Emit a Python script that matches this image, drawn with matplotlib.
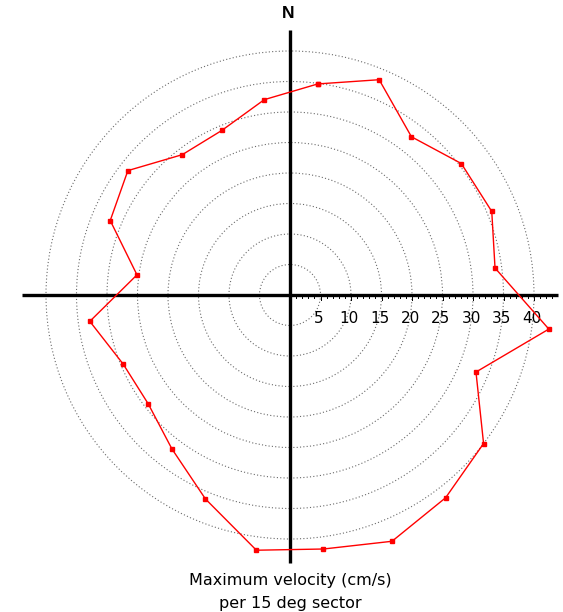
import numpy as np
import matplotlib.pyplot as plt
from matplotlib.patches import Circle

# Max velocity per 15 deg sector (bearing of sector middle, cm/s)
bearings = [7.5, 22.5, 37.5, 52.5, 67.5, 82.5, 97.5, 112.5, 127.5, 142.5, 157.5, 172.5,
            187.5, 202.5, 217.5, 232.5, 247.5, 262.5, 277.5, 292.5, 307.5, 322.5, 337.5, 352.5]
max_vel = [34.9, 38.2, 32.7, 35.4, 35.8, 33.9, 42.8, 33.0, 40.0, 41.9, 43.7, 42.0,
           42.2, 36.2, 31.8, 29.3, 29.6, 33.1, 25.3, 31.9, 33.5, 29.0, 29.2, 32.3]
ring_radii = [5, 10, 15, 20, 25, 30, 35, 40]
tick_labels = ['5', '10', '15', '20', '25', '30', '35', '40']

plt.rcParams['font.family'] = ['DejaVu Sans']

fig = plt.figure(figsize=(5.63, 6.12), dpi=100)
ax = fig.add_axes([0, 0, 1, 1])
ax.set_xlim(-290 / 6.1, (563 - 290) / 6.1)
ax.set_ylim(-(612 - 295) / 6.1, 295 / 6.1)
ax.axis('off')

# dotted range rings
for r in ring_radii:
    ax.add_patch(Circle((0, 0), r, fill=False, ec='#6a6a6a', lw=0.8,
                        ls=(0, (1, 2)), zorder=1))

# compass axes
ax.plot([-44, 44], [0, 0], color='black', lw=2.4, zorder=3, solid_capstyle='butt')
ax.plot([0, 0], [-44, 43.4], color='black', lw=2.4, zorder=3, solid_capstyle='butt')

# scale ticks along the east axis
for v in range(1, 44):
    ln = 0.8 if v % 5 == 0 else 0.5
    ax.plot([v, v], [0, -ln], color='black', lw=0.7, zorder=3)
for r, lab in zip(ring_radii, tick_labels):
    ax.text(r - 0.3, -3.9, lab, ha='center', va='center', fontsize=11, zorder=4)

ax.text(-0.3, 46.1, 'N', ha='center', va='center', fontsize=12.5,
        family='Liberation Sans', fontweight='bold')

# velocity polygon (bearing measured clockwise from north)
th = np.radians(np.array(bearings + bearings[:1]))
vel = np.array(max_vel + max_vel[:1])
ax.plot(vel * np.sin(th), vel * np.cos(th), color='red', lw=1.0, marker='s',
        markersize=2.3, zorder=5)

ax.text(0, -46.8, 'Maximum velocity (cm/s)', ha='center', va='center', fontsize=11.5)
ax.text(0, -50.5, 'per 15 deg sector', ha='center', va='center', fontsize=11.5)

fig.savefig('out.png', dpi=100)
